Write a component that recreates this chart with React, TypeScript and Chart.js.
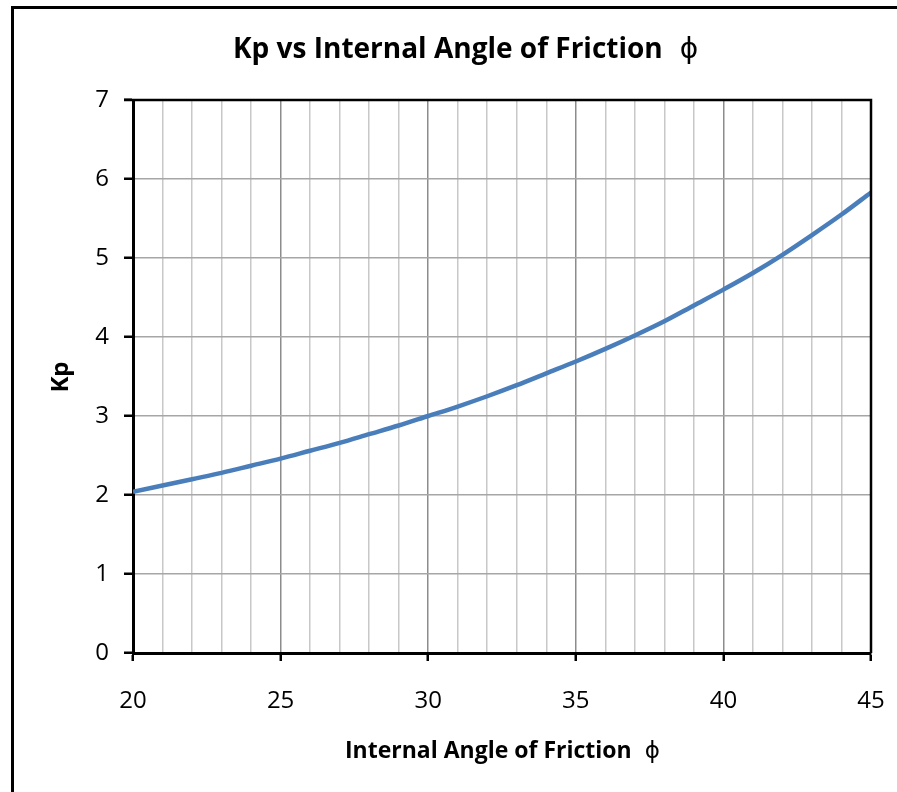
import React, { useEffect, useRef } from "react";
import { Chart, registerables } from "chart.js";

Chart.register(...registerables);

const phiValues = [20, 21, 22, 23, 24, 25, 26, 27, 28, 29, 30, 31, 32, 33, 34, 35, 36, 37, 38, 39, 40, 41, 42, 43, 44, 45];
const kpValues = [2.04, 2.12, 2.2, 2.28, 2.37, 2.46, 2.56, 2.66, 2.77, 2.88, 3.0, 3.12, 3.25, 3.39, 3.54, 3.69, 3.85, 4.02, 4.2, 4.4, 4.6, 4.81, 5.04, 5.29, 5.55, 5.83];
const xTickValues = [20, 21, 22, 23, 24, 25, 26, 27, 28, 29, 30, 31, 32, 33, 34, 35, 36, 37, 38, 39, 40, 41, 42, 43, 44, 45];
const xLabelValues = [20, 25, 30, 35, 40, 45];
const titleText = "Kp vs Internal Angle of Friction";
const xTitleText = "Internal Angle of Friction";
const yTitleText = "Kp";
const phiSymbol = "ϕ";

const FONT = "'Open Sans', 'DejaVu Sans', sans-serif";

const framePlugin = {
  id: "framePlugin",
  beforeDraw(chart: any) {
    const ctx = chart.ctx;
    ctx.save();
    ctx.fillStyle = "#fff";
    ctx.fillRect(0, 0, chart.width, chart.height);
    ctx.strokeStyle = "#000";
    ctx.lineWidth = 3;
    ctx.beginPath();
    ctx.moveTo(12.5, chart.height + 5);
    ctx.lineTo(12.5, 7.5);
    ctx.lineTo(chart.width + 5, 7.5);
    ctx.stroke();
    ctx.restore();
  },
  afterDraw(chart: any) {
    const ctx = chart.ctx;
    const a = chart.chartArea;
    ctx.save();
    ctx.strokeStyle = "#000";
    ctx.lineWidth = 2.5;
    ctx.beginPath();
    ctx.moveTo(a.left - 9, a.top);
    ctx.lineTo(a.right, a.top);
    ctx.lineTo(a.right, a.bottom);
    ctx.stroke();

    ctx.fillStyle = "#000";
    ctx.textBaseline = "alphabetic";
    ctx.textAlign = "left";
    // Title
    ctx.font = `bold 28px ${FONT}`;
    ctx.fillText(titleText, 233, 58);
    const tw = ctx.measureText(titleText).width;
    ctx.font = `28px ${FONT}`;
    ctx.fillText(phiSymbol, 233 + tw + 17, 58);

    // X title
    ctx.font = `bold 23px ${FONT}`;
    ctx.fillText(xTitleText, 345, 758);
    const xw = ctx.measureText(xTitleText).width;
    ctx.font = `23px ${FONT}`;
    ctx.fillText(phiSymbol, 345 + xw + 13, 758);

    // Y title
    ctx.translate(61, 377);
    ctx.rotate(-Math.PI / 2);
    ctx.textAlign = "center";
    ctx.textBaseline = "middle";
    ctx.font = `bold 24px ${FONT}`;
    ctx.fillText(yTitleText, 0, 0);
    ctx.restore();
  },
};

export default function App() {
  const ref = useRef<HTMLCanvasElement | null>(null);

  useEffect(() => {
    document.documentElement.style.overflow = "hidden";
    document.body.style.overflow = "hidden";
    document.body.style.margin = "0";
    if (!ref.current) return;
    const chart = new Chart(ref.current, {
      type: "line",
      data: {
        datasets: [
          {
            data: phiValues.map((x, i) => ({ x, y: kpValues[i] })),
            borderColor: "#4a7ebb",
            borderWidth: 4.5,
            pointRadius: 0,
            cubicInterpolationMode: "monotone",
            fill: false,
          },
        ],
      },
      options: {
        responsive: false,
        animation: false,
        devicePixelRatio: 1,
        layout: { padding: { top: 100, right: 26, left: 0, bottom: 0 } },
        plugins: {
          legend: { display: false },
          title: { display: false },
          tooltip: { enabled: false },
        },
        scales: {
          x: {
            type: "linear",
            min: 20,
            max: 45,
            afterBuildTicks: (s: any) => {
              s.ticks = xTickValues.map((v) => ({ value: v }));
            },
            ticks: {
              autoSkip: false,
              maxRotation: 0,
              padding: 26,
              color: "#000",
              font: { family: FONT, size: 24 },
              callback: (v: any) => (xLabelValues.includes(Number(v)) ? String(v) : ""),
            },
            grid: {
              color: (c: any) => (c.tick && c.tick.value % 5 === 0 ? "#8c8c8c" : "#c8c8c8"),
              lineWidth: 1.5,
              tickLength: 8,
              tickWidth: 2.5,
              tickColor: (c: any) => (c.tick && c.tick.value % 5 === 0 ? "#000" : "rgba(0,0,0,0)"),
            },
            border: { display: true, color: "#000", width: 3 },
            afterFit: (s: any) => {
              s.height = 139;
              s.paddingLeft = 0;
              s.paddingRight = 0;
            },
          },
          y: {
            type: "linear",
            min: 0,
            max: 7,
            ticks: {
              stepSize: 1,
              padding: 15,
              color: "#000",
              font: { family: FONT, size: 24 },
            },
            grid: {
              color: "#a6a6a6",
              lineWidth: 1.5,
              tickLength: 9,
              tickWidth: 2.5,
              tickColor: "#000",
            },
            border: { display: true, color: "#000", width: 3 },
            afterFit: (s: any) => {
              s.width = 133;
              s.paddingTop = 0;
              s.paddingBottom = 0;
            },
          },
        },
      } as any,
      plugins: [framePlugin],
    });
    return () => chart.destroy();
  }, []);

  return (
    <div style={{ position: "fixed", left: 0, top: 0, width: 897, height: 792, overflow: "hidden" }}>
      <canvas ref={ref} width={897} height={792} style={{ width: 897, height: 792, display: "block" }} />
    </div>
  );
}
